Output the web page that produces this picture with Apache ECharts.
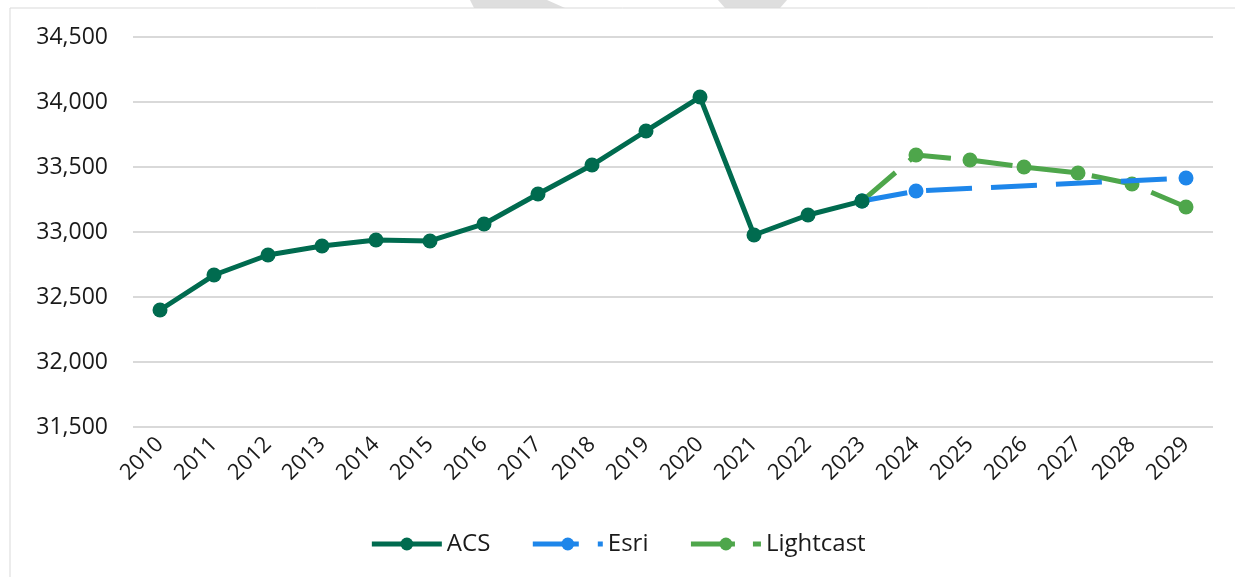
<!DOCTYPE html>
<html>
<head>
<meta charset="utf-8">
<script src="https://cdn.jsdelivr.net/npm/echarts@6/dist/echarts.min.js"></script>
<style>
  html, body { margin: 0; padding: 0; background: #fff; }
  #chart { width: 1235px; height: 577px; }
</style>
</head>
<body>
<div id="chart"></div>
<script>
var years = ['2010', '2011', '2012', '2013', '2014', '2015', '2016', '2017', '2018', '2019',
             '2020', '2021', '2022', '2023', '2024', '2025', '2026', '2027', '2028', '2029'];
var acs = [32400, 32669, 32823, 32892, 32938, 32931, 33062, 33292, 33515, 33777,
           34038, 32977, 33131, 33238, null, null, null, null, null, null];
var esri = [null, null, null, null, null, null, null, null, null, null,
            null, null, null, 33238, 33315, null, null, null, null, 33415];
var lightcast = [null, null, null, null, null, null, null, null, null, null,
                 null, null, null, 33238, 33592, 33554, 33500, 33454, 33369, 33192];

var font = '"Open Sans", "Noto Sans", sans-serif';

var myChart = echarts.init(document.getElementById('chart'));
myChart.setOption({
    animation: false,
    backgroundColor: '#fff',
    graphic: [
        // frame lines and cropped watermark bits at the top
        {type: 'polygon', shape: {points: [[470, 0], [547, 0], [565, 8], [474, 8]]}, style: {fill: '#dedede'}},
        {type: 'polygon', shape: {points: [[718, 0], [787, 0], [780, 8], [725, 8]]}, style: {fill: '#dedede'}},
        {type: 'line', shape: {x1: 10, y1: 8, x2: 1235, y2: 8}, style: {stroke: '#d9d9d9', lineWidth: 1}},
        {type: 'line', shape: {x1: 10, y1: 8, x2: 10, y2: 577}, style: {stroke: '#d9d9d9', lineWidth: 1}}
    ],
    grid: {left: 133, right: 22, top: 37, bottom: 150},
    legend: {
        bottom: 16,
        left: 'center',
        itemWidth: 70,
        itemHeight: 16,
        itemGap: 40,
        lineStyle: {width: 5},
        textStyle: {fontFamily: font, fontSize: 24, color: '#1a1a1a'},
        data: ['ACS', 'Esri', 'Lightcast']
    },
    xAxis: {
        type: 'category',
        data: years,
        boundaryGap: true,
        axisLine: {show: false},
        axisTick: {show: false},
        axisLabel: {
            rotate: 45,
            margin: 14,
            fontFamily: font,
            fontSize: 22,
            color: '#1a1a1a'
        }
    },
    yAxis: {
        type: 'value',
        min: 31500,
        max: 34500,
        interval: 500,
        axisLine: {show: false},
        axisTick: {show: false},
        splitLine: {lineStyle: {color: '#d9d9d9', width: 2}},
        axisLabel: {
            margin: 25,
            fontFamily: font,
            fontSize: 23,
            color: '#1a1a1a',
            formatter: function (v) { return v.toLocaleString('en-US'); }
        }
    },
    series: [
        {
            name: 'Lightcast',
            type: 'line',
            data: lightcast,
            z: 2,
            symbol: 'circle',
            symbolSize: 15,
            itemStyle: {color: '#4ea64b'},
            lineStyle: {color: '#4ea64b', width: 5, type: [44, 18]}
        },
        {
            name: 'Esri',
            type: 'line',
            data: esri,
            connectNulls: true,
            z: 3,
            symbol: 'circle',
            symbolSize: 15,
            itemStyle: {color: '#1e86ea'},
            lineStyle: {color: '#1e86ea', width: 5, type: [46, 19]}
        },
        {
            name: 'ACS',
            type: 'line',
            data: acs,
            z: 4,
            symbol: 'circle',
            symbolSize: 15,
            itemStyle: {color: '#006b4f'},
            lineStyle: {color: '#006b4f', width: 5}
        }
    ]
});
</script>
</body>
</html>
